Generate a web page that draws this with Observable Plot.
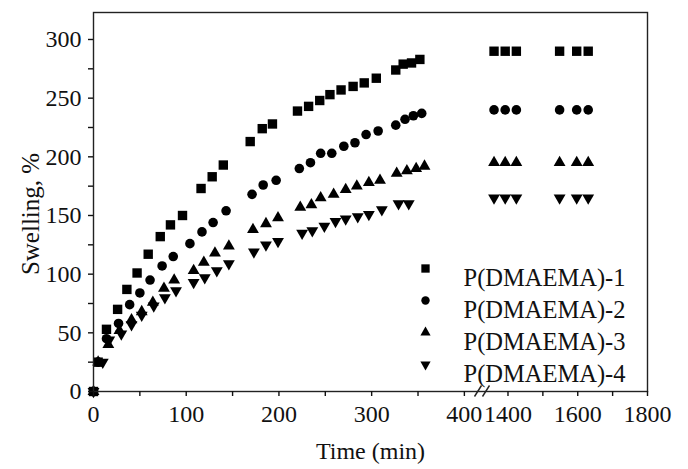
<!DOCTYPE html>
<html><head><meta charset="utf-8">
<script src="https://cdn.jsdelivr.net/npm/d3@7"></script>
<script src="https://cdn.jsdelivr.net/npm/@observablehq/plot@0.6"></script>
<style>body{margin:0;background:#fff}</style>
</head><body><div id="chart"></div>
<script>
const seriesNames = ["P(DMAEMA)-1", "P(DMAEMA)-2", "P(DMAEMA)-3", "P(DMAEMA)-4"];

const time1 = [0,5,14,26,36,47,59,72,83,96,116,128,140,169,182,193,220,232,244,255,267,280,292,305,326,334,343,352];
const swell1 = [0,25,53,70,87,101,117,132,142,150,173,183,193,213,224,228,239,243,248,253,257,260,263,267,274,279,280,283];
const time2 = [0,5,14,27,39,50,61,74,86,104,117,129,143,171,183,197,222,234,245,257,270,282,294,307,326,336,345,354];
const swell2 = [0,25,45,58,74,84,95,107,115,126,136,144,154,168,176,180,190,195,203,203,209,212,219,222,227,232,235,237];
const time3 = [0,5,16,28,41,52,64,76,87,108,119,131,146,172,186,199,223,235,245,259,272,284,297,309,327,338,348,357];
const swell3 = [0,25,40,52,61,68,76,88,95,103,110,118,124,138,143,148,157,159,165,168,172,175,178,180,186,188,190,192];
const time4 = [0,10,17,30,41,52,65,77,89,108,120,133,146,173,186,199,225,236,249,261,272,285,297,311,329,340];
const swell4 = [0,25,44,49,57,65,73,80,86,93,97,103,109,119,125,128,135,137,141,145,147,149,151,155,160,160];

// long-time (equilibrium) measurements after the axis break
const longTimes = [1360,1392,1424,1548,1597,1630];
const longSwell = [290,240,195,165];

const xTicks = [0,50,100,150,200,250,300,350,400,1400,1500,1600,1700,1800];
const xTickLabels = [0,100,200,300,400,1400,1600,1800];
const yTicks = [0,25,50,75,100,125,150,175,200,225,250,275,300];
const yTickLabels = [0,50,100,150,200,250,300];

const times = [time1, time2, time3, time4];
const swells = [swell1, swell2, swell3, swell4];
const rowsFor = i => times[i].map((t, j) => ({t, v: swells[i][j]}))
  .concat(longTimes.map(t => ({t, v: longSwell[i]})));
const data = seriesNames.map((_, i) => rowsFor(i));

const triDown = {
  draw(ctx, size) {
    const y = Math.sqrt(size / (Math.sqrt(3) * 3));
    ctx.moveTo(0, 2 * y);
    ctx.lineTo(-Math.sqrt(3) * y, -y);
    ctx.lineTo(Math.sqrt(3) * y, -y);
    ctx.closePath();
  }
};
const symbols = ["square", "circle", "triangle", triDown];
const radii = [5.3, 4.8, 4.4, 4.4];

const W = 688, H = 469;
const mL = 93, mR = 41, mT = 12, mB = 78;
const FS = 24;
// broken x axis: two linear pieces joined across a small gap
const xDomain = [0, 412, 1347, 1800];
const xRange = [mL, 475, 489, W - mR];

const marks = [];
data.forEach((rows, i) => {
  marks.push(Plot.dot(rows, {x: "t", y: "v", symbol: symbols[i], r: radii[i], fill: "black", stroke: "none"}));
});
marks.push(Plot.frame({stroke: "#222", strokeWidth: 1.4}));
marks.push(Plot.axisX({ticks: xTicks, tickFormat: d => xTickLabels.includes(d) ? String(d) : "", tickSize: 5, tickPadding: 8, strokeWidth: 1.4, label: null, fontSize: FS}));
marks.push(Plot.axisY({ticks: yTicks, tickFormat: d => yTickLabels.includes(d) ? String(d) : "", tickSize: 5, tickPadding: 7, strokeWidth: 1.4, label: null, fontSize: FS}));
// axis break symbol "//" drawn at the middle of the gap
marks.push((index, scales) => {
  const cx = (scales.x(xDomain[1]) + scales.x(xDomain[2])) / 2;
  const cy = scales.y(0);
  const g = d3.create("svg:g").attr("stroke", "#222").attr("stroke-width", 1.4);
  for (const off of [-4, 4]) {
    g.append("line")
      .attr("x1", cx + off - 3.5).attr("y1", cy + 5.5)
      .attr("x2", cx + off + 3.5).attr("y2", cy - 5.5);
  }
  return g.node();
});
// axis titles
marks.push(Plot.text(["Time (min)"], {frameAnchor: "bottom", dy: 67, fontSize: FS, fill: "#111"}));
marks.push(Plot.text(["Swelling, %"], {frameAnchor: "left", textAnchor: "middle", rotate: -90, dx: -63, dy: 12, fontSize: 25, fill: "#111"}));
// in-plot legend
seriesNames.forEach((name, i) => {
  const dy = 256 + i * 32;
  marks.push(Plot.dot([name], {frameAnchor: "top-left", dx: 332, dy, symbol: symbols[i], r: radii[i] - 0.6, fill: "black"}));
  marks.push(Plot.text([name], {frameAnchor: "top-left", dx: 370, dy, text: d => d, textAnchor: "start", fontSize: 24.5, fill: "#111"}));
});

const chart = Plot.plot({
  width: W, height: H,
  marginLeft: mL, marginRight: mR, marginTop: mT, marginBottom: mB,
  style: {fontFamily: "'Liberation Serif', 'Times New Roman', serif", fontSize: FS + "px", color: "#111", background: "#fff"},
  x: {type: "linear", domain: xDomain, range: xRange},
  y: {domain: [0, 323]},
  marks
});
document.getElementById("chart").appendChild(chart);
</script>
</body></html>
